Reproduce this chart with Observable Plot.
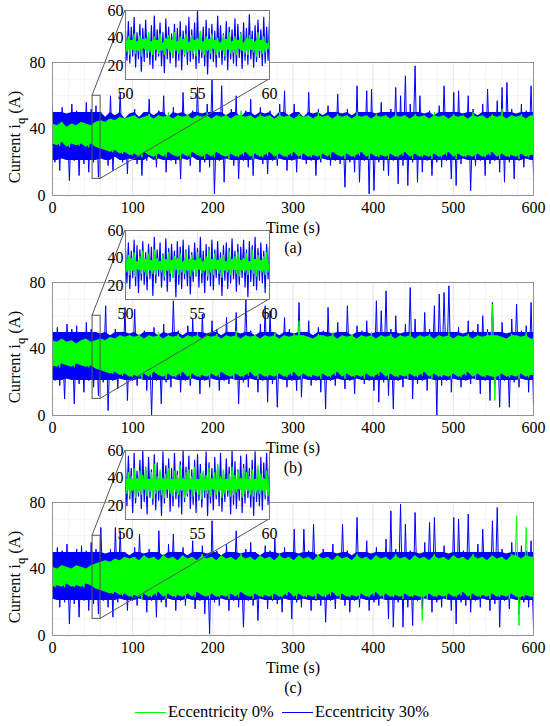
<!DOCTYPE html>
<html><head><meta charset="utf-8">
<script src="https://cdn.jsdelivr.net/npm/d3@7"></script>
<script src="https://cdn.jsdelivr.net/npm/@observablehq/plot@0.6"></script>
<style>
body{margin:0;background:#fff;}
#fig{position:relative;width:550px;height:726px;overflow:hidden;background:#fff;font-family:"Liberation Serif","Times New Roman",serif;}
#fig svg{position:absolute;}
.leg{position:absolute;font-size:16.5px;color:#000;white-space:nowrap;}
.legline{position:absolute;height:0;width:31px;border-top:1.6px solid;}
</style></head><body><div id="fig"></div>
<script>
// ---------- data ----------
const xTicks = [0, 100, 200, 300, 400, 500, 600];
const yTicks = [0, 40, 80];
const insetXTicks = [50, 55, 60];
const insetYTicks = [20, 40, 60];
const zoomX = [50, 60];
const zoomY = [10, 60];
const timeSpan = [0, 600];
const tags = ["(a)", "(b)", "(c)"];
const seriesNames = ["Eccentricity 0%", "Eccentricity 30%"];

// samples alternate local maxima / minima of each trace
const blueA = [52,20,50,15,53,22,49,9,55,21,51,12,50,19,56,14,52,20,54,11,
50,22,47,18,60,15,48,23,62,20,46,13,49,22,52,19,47,12,50,21,
58,23,48,17,51,22,60,14,47,21,53,19,49,10,62,22,48,18,51,23,
65,14,49,20,55,17,70,1,50,21,66,8,48,22,52,18,60,10,47,21,
51,17,58,12,48,22,53,19,49,13,51,21,47,18,55,22,63,15,48,21,
55,14,50,22,47,19,62,21,49,12,52,20,48,22,54,18,50,21,61,19,
49,5,52,20,48,14,66,8,50,21,63,1,64,3,49,20,56,15,50,12,
52,21,65,7,60,18,72,6,55,20,78,8,60,14,49,21,51,12,48,20,
54,17,66,21,50,10,62,6,63,19,49,22,60,3,52,18,48,21,55,12,
64,19,50,21,57,14,65,8,68,20,52,10,49,21,55,17,51,22,66,13];
const greenA = [43,31,42,30,44,32,41,29,43,31,42,30,44,31,43,29,42,31,44,29,
45,28,44,27,46,26,45,27,47,25,46,26,47,24,48,25,46,23,47,26,
49,24,46,22,48,25,47,23,50,26,46,24,48,22,47,25,49,23,46,26,
48,24,47,22,50,25,46,23,48,26,47,24,49,22,46,25,48,23,51,24,
47,26,48,22,46,25,49,23,47,24,48,26,46,22,50,25,47,23,48,24,
46,26,49,22,47,25,48,23,46,24,50,22,47,25,48,23,46,26,49,24,
47,22,48,25,46,23,50,24,47,26,48,22,46,25,49,23,47,24,48,22,
46,25,50,23,47,24,48,26,46,22,49,25,47,23,48,24,46,22,50,25,
47,23,48,24,46,26,49,22,47,25,48,23,46,24,50,22,47,25,48,23,
46,24,49,26,47,22,52,25,46,23,48,24,47,22,49,25,46,23,48,24];
const blueB = [51,21,53,18,50,10,55,22,52,7,54,19,50,14,56,21,52,17,50,12,
49,20,66,3,48,21,52,16,50,22,65,9,49,21,64,18,48,22,51,15,
50,0,53,21,48,7,55,20,49,17,69,22,51,14,48,21,54,18,58,22,
50,13,61,21,49,17,57,22,52,15,48,21,59,19,50,22,62,7,49,20,
70,17,51,22,48,14,55,21,66,8,63,19,50,5,48,22,59,17,52,21,
49,15,68,11,50,22,57,18,48,21,53,14,51,4,65,21,49,18,56,22,
50,16,66,21,48,13,54,22,51,19,57,21,49,15,69,8,63,20,75,12,
52,4,60,21,49,17,55,22,77,10,58,19,50,21,62,15,52,22,66,0,
73,18,74,21,78,14,50,22,53,17,49,21,57,19,51,22,55,13,60,21,
52,9,68,18,50,5,56,21,49,5,58,20,67,17,51,22,54,14,68,7];
const greenB = [45,30,44,29,46,31,44,30,45,29,43,31,45,30,46,29,44,30,45,28,
46,27,45,26,47,25,46,26,48,24,47,25,48,23,47,24,49,22,46,25,
48,23,47,26,50,24,46,22,48,25,47,23,49,24,46,26,48,22,47,25,
50,23,46,24,48,22,47,25,49,23,46,26,48,24,47,22,51,25,46,23,
48,24,47,26,49,22,46,25,48,23,47,24,50,22,46,25,48,23,47,24,
49,26,57,22,48,25,47,23,46,24,49,22,48,25,47,23,50,24,46,26,
48,22,47,25,49,23,46,24,48,22,47,25,50,23,46,24,48,26,47,22,
49,25,46,23,48,24,47,22,50,25,46,23,48,24,47,26,49,22,46,25,
48,23,47,24,50,22,46,25,48,23,47,24,49,26,46,22,48,25,47,23,
50,24,67,9,48,22,47,25,46,23,49,24,48,22,47,25,50,23,46,24];
const blueC = [50,22,53,17,51,20,55,7,50,19,52,11,54,21,51,15,56,19,52,13,
65,21,49,17,52,11,65,20,63,22,50,15,48,21,53,18,61,22,49,14,
52,21,50,11,63,20,48,17,55,22,61,15,50,21,53,18,48,22,57,16,
50,21,54,13,49,1,69,20,51,18,48,22,55,15,50,21,63,17,49,5,
52,21,56,18,50,9,48,22,54,16,51,21,58,19,49,14,53,22,50,10,
64,20,49,17,64,22,51,15,67,21,48,18,52,8,50,21,55,16,49,22,
67,18,51,14,48,21,71,17,50,22,57,15,49,20,53,18,50,22,58,10,
75,5,52,20,79,5,67,17,51,6,74,21,49,16,56,22,68,14,71,20,
50,17,54,22,49,15,71,7,70,20,51,18,73,14,50,21,55,17,64,22,
50,15,69,19,77,5,52,21,49,16,56,22,50,13,54,20,51,17,57,5];
const greenC = [41,29,40,30,42,29,41,31,40,29,42,30,41,29,40,31,42,30,43,28,
44,27,45,26,44,25,46,26,45,24,47,25,46,23,47,24,45,22,48,25,
46,23,47,24,45,26,49,22,46,25,47,23,45,24,48,22,46,25,47,23,
45,26,49,24,46,22,47,25,45,23,48,24,46,22,47,25,45,23,49,26,
46,24,47,22,45,25,48,23,46,24,47,22,45,25,49,23,46,24,47,26,
45,22,48,25,46,23,47,24,45,22,49,25,46,23,47,24,45,26,48,22,
46,25,47,23,45,24,49,22,46,25,47,23,45,24,48,26,46,22,47,25,
45,23,49,24,46,22,47,25,45,23,48,24,46,9,47,22,45,25,49,23,
46,24,47,22,45,25,48,23,46,24,47,26,45,22,49,25,46,23,47,24,
45,22,48,25,46,23,47,24,45,22,49,25,72,6,46,23,65,24,47,22];

// zoomed window 50–60 s
const insetBlueA = [45,24,52,22,48,27,55,19,44,25,50,16,47,23,53,26,42,21,49,18,56,24,46,27,51,20,44,15,54,25,48,22,43,26,50,19,47,24,52,17,45,27,49,21,55,23,46,25,51,18,60,22,44,26,48,20,53,14,47,25,50,23,45,19,56,26,49,21,43,24,52,17,48,25,46,22,54,20,50,26,44,18,51,24,47,21,57,25,45,19,49,23,53,26,46,20,55,22,48,24,52];
const insetGreenA = [36,30,41,28,38,32,43,29,37,31,42,27,39,33,40,29,44,30,37,28,41,32,38,29,43,31,36,28,40,33,42,30,38,27,44,31,37,29,41,32,39,28,43,30,36,31,42,29,38,27,40,32,45,30,37,28,41,31,39,29,43,33,38,28,40,30,36,31,42,27,39,32,44,29,37,30,41,28,38,33,43,31,36,29,40,28,42,32,39,30,37,27,44,31,38,29,41,30,36,32,40];
const insetBlueB = [47,22,51,18,45,26,53,20,49,15,46,24,52,21,44,17,50,25,48,13,55,22,46,27,51,19,43,24,54,16,47,23,50,26,45,12,52,21,48,18,53,25,46,20,49,14,44,23,51,27,47,19,55,22,45,15,50,24,48,20,53,17,46,26,52,21,44,13,49,24,51,18,47,22,54,25,45,16,50,21,48,26,53,19,46,12,52,23,49,20,55,17,47,24,51,22,45,15,50,25,48];
const insetGreenB = [38,30,42,28,40,31,44,27,37,32,41,29,45,30,39,27,43,31,38,29,46,28,40,32,37,30,42,27,39,31,44,29,38,26,41,32,40,28,43,30,37,29,45,31,39,27,42,30,38,28,44,32,40,29,37,31,41,27,46,30,39,28,43,32,38,29,40,26,42,31,37,30,45,28,39,32,41,29,44,27,38,31,40,30,43,28,37,32,46,29,39,27,42,31,38,30,41,28,44,30,40];
const insetBlueC = [50,20,56,25,47,15,58,22,45,27,53,18,60,23,48,14,55,26,46,21,57,17,51,24,44,13,59,22,49,26,54,16,47,20,58,25,45,19,52,14,60,23,48,27,56,18,46,21,53,15,57,24,50,19,44,26,59,13,51,22,47,17,55,25,49,20,58,16,45,23,54,27,48,14,60,21,52,18,46,24,56,15,50,22,57,26,47,19,53,13,59,23,45,20,55,17,51,25,58,21,49];
const insetGreenC = [39,29,44,27,41,31,47,26,40,30,45,28,42,32,48,27,39,30,44,25,50,29,41,31,46,28,40,26,43,32,47,29,39,27,45,30,42,28,49,31,40,26,44,29,46,32,41,27,48,30,39,28,43,25,45,31,42,29,47,27,40,32,44,28,50,30,41,26,46,29,39,31,43,27,48,28,42,30,45,32,40,26,47,29,44,31,41,28,46,27,39,30,49,29,43,31,40,28,45,27,42];

// ---------- drawing ----------
const BLUE = "#0000ff", GREEN = "#00ff00";
const FONT = "Liberation Serif, Times New Roman, serif";
// the dense core of each trace is filled between successive max/min samples,
// limited to these bounds so that isolated spikes stay thin lines
const blueCore = [21, 50], greenCore = [23, 48], insetGreenCore = [31, 39];

function hull(values, t0, step, lim) {
  const out = [];
  for (let k = 0; k + 1 < values.length; k += 2) {
    const a = values[k], b = values[k + 1];
    const lo = Math.max(lim[0], Math.min(a, b)), hi = Math.min(lim[1], Math.max(a, b));
    out.push({t: t0 + k * step, lo, hi});
    if (k + 2 >= values.length - 1) out.push({t: t0 + (k + 1) * step, lo, hi});
  }
  return out;
}

const fig = document.getElementById("fig");
const panels = [
  {tag: tags[0], blue: blueA, green: greenA, iblue: insetBlueA, igreen: insetGreenA},
  {tag: tags[1], blue: blueB, green: greenB, iblue: insetBlueB, igreen: insetGreenB},
  {tag: tags[2], blue: blueC, green: greenC, iblue: insetBlueC, igreen: insetGreenC}
];
const tops = [0, 220, 440];
const minorX = d3.range(0, 601, 20).filter(v => v % 100 !== 0);
const minorY = d3.range(0, 81, 10).filter(v => v % 40 !== 0);
const insetMinorX = d3.range(50, 60.01, 1).filter(v => v % 5 !== 0);
const insetMinorY = d3.range(10, 60.01, 5).filter(v => v % 20 !== 0);

// inset geometry (pixels, relative to panel top)
const IN = {left: 95, top: 6, ml: 30, mr: 6, mt: 4, mb: 26, w: 144, h: 69};

panels.forEach((p, k) => {
  const top = tops[k];
  const stepB = (timeSpan[1] - timeSpan[0]) / (p.blue.length - 1);
  const stepGr = (timeSpan[1] - timeSpan[0]) / (p.green.length - 1);
  const bh = hull(p.blue, 0, stepB, blueCore);
  const gh = hull(p.green, 0, stepGr, greenCore);
  const chart = Plot.plot({
    width: 550, height: 265,
    marginLeft: 52, marginRight: 17, marginTop: 62, marginBottom: 70,
    style: {fontFamily: FONT, fontSize: "16px", color: "#000", overflow: "visible"},
    x: {domain: timeSpan, label: null},
    y: {domain: [0, 80], label: null},
    marks: [
      Plot.frame({fill: "white"}),
      Plot.ruleX(minorX, {stroke: "#ebebeb", strokeWidth: 0.6}),
      Plot.ruleY(minorY, {stroke: "#ebebeb", strokeWidth: 0.6}),
      Plot.ruleX(xTicks, {stroke: "#d8d8d8", strokeWidth: 0.7}),
      Plot.ruleY(yTicks, {stroke: "#d8d8d8", strokeWidth: 0.7}),
      Plot.areaY(bh, {x: "t", y1: "lo", y2: "hi", fill: BLUE}),
      Plot.line(p.blue, {x: (d, i) => i * stepB, y: d => d, stroke: BLUE, strokeWidth: 1}),
      Plot.areaY(gh, {x: "t", y1: "lo", y2: "hi", fill: GREEN}),
      Plot.line(p.green, {x: (d, i) => i * stepGr, y: d => d, stroke: GREEN, strokeWidth: 1}),
      Plot.rect([{x1: zoomX[0], x2: zoomX[1], y1: zoomY[0], y2: zoomY[1]}],
        {x1: "x1", x2: "x2", y1: "y1", y2: "y2", fill: "none", stroke: "#555", strokeWidth: 1}),
      Plot.frame({stroke: "#8a8a8a", strokeWidth: 0.9}),
      Plot.axisX(xTicks, {tickSize: 0, tickPadding: 6, fontSize: 16}),
      Plot.axisY(yTicks, {tickSize: 0, tickPadding: 7, fontSize: 16}),
      Plot.text(["Time (s)"], {frameAnchor: "bottom", dy: 37, fontSize: 16}),
      Plot.text([p.tag], {frameAnchor: "bottom", dy: 57, fontSize: 16})
    ]
  });
  chart.style.background = "transparent";
  chart.style.left = "0px";
  chart.style.top = top + "px";
  const svg = d3.select(chart);
  // y label with subscript
  const yl = svg.append("text")
    .attr("transform", "translate(20,137) rotate(-90)")
    .attr("text-anchor", "middle")
    .attr("font-family", FONT).attr("font-size", 16.5).attr("fill", "#000");
  yl.append("tspan").text("Current i");
  yl.append("tspan").attr("dy", 5).attr("font-size", 12.5).text("q");
  yl.append("tspan").attr("dy", -5).text(" (A)");
  // connector lines from the zoom box to the inset frame
  const sx = chart.scale("x"), sy = chart.scale("y");
  const fx0 = IN.left + IN.ml, fy0 = IN.top + IN.mt;
  const fx1 = fx0 + IN.w, fy1 = fy0 + IN.h;
  svg.append("line").attr("x1", sx.apply(zoomX[0])).attr("y1", sy.apply(zoomY[1]))
    .attr("x2", fx0).attr("y2", fy0).attr("stroke", "#555").attr("stroke-width", 1);
  svg.append("line").attr("x1", sx.apply(zoomX[1])).attr("y1", sy.apply(zoomY[0]))
    .attr("x2", fx1).attr("y2", fy1).attr("stroke", "#555").attr("stroke-width", 1);
  fig.appendChild(chart);

  // inset
  const stepI = (zoomX[1] - zoomX[0]) / (p.iblue.length - 1);
  const stepG = (zoomX[1] - zoomX[0]) / (p.igreen.length - 1);
  const igh = hull(p.igreen, zoomX[0], stepG, insetGreenCore);
  const ins = Plot.plot({
    width: IN.ml + IN.w + IN.mr, height: IN.mt + IN.h + IN.mb,
    marginLeft: IN.ml, marginRight: IN.mr, marginTop: IN.mt, marginBottom: IN.mb,
    style: {fontFamily: FONT, fontSize: "16px", color: "#000", overflow: "visible"},
    x: {domain: zoomX, label: null},
    y: {domain: zoomY, label: null},
    marks: [
      Plot.frame({fill: "white"}),
      Plot.ruleX(insetMinorX, {stroke: "#efefef", strokeWidth: 0.6}),
      Plot.ruleY(insetMinorY, {stroke: "#efefef", strokeWidth: 0.6}),
      Plot.ruleX(insetXTicks, {stroke: "#dadada", strokeWidth: 0.7}),
      Plot.ruleY(insetYTicks, {stroke: "#dadada", strokeWidth: 0.7}),
      Plot.line(p.iblue, {x: (d, i) => zoomX[0] + i * stepI, y: d => d, stroke: BLUE, strokeWidth: 1.2}),
      Plot.areaY(igh, {x: "t", y1: "lo", y2: "hi", fill: GREEN}),
      Plot.line(p.igreen, {x: (d, i) => zoomX[0] + i * stepG, y: d => d, stroke: GREEN, strokeWidth: 1.3}),
      Plot.frame({stroke: "#777", strokeWidth: 1}),
      Plot.axisX(insetXTicks, {tickSize: 0, tickPadding: 8, fontSize: 16}),
      Plot.axisY(insetYTicks, {tickSize: 0, tickPadding: 2, fontSize: 16})
    ]
  });
  ins.style.background = "transparent";
  ins.style.left = IN.left + "px";
  ins.style.top = (top + IN.top) + "px";
  fig.appendChild(ins);
});

// legend
const legend = [
  {name: seriesNames[0], color: GREEN, line: 135, text: 168},
  {name: seriesNames[1], color: BLUE, line: 282, text: 315}
];
legend.forEach(l => {
  const ln = document.createElement("div");
  ln.className = "legline";
  ln.style.left = l.line + "px"; ln.style.top = "712px"; ln.style.borderTopColor = l.color;
  fig.appendChild(ln);
  const tx = document.createElement("div");
  tx.className = "leg";
  tx.style.left = l.text + "px"; tx.style.top = "702px";
  tx.textContent = l.name;
  fig.appendChild(tx);
});
</script></body></html>
